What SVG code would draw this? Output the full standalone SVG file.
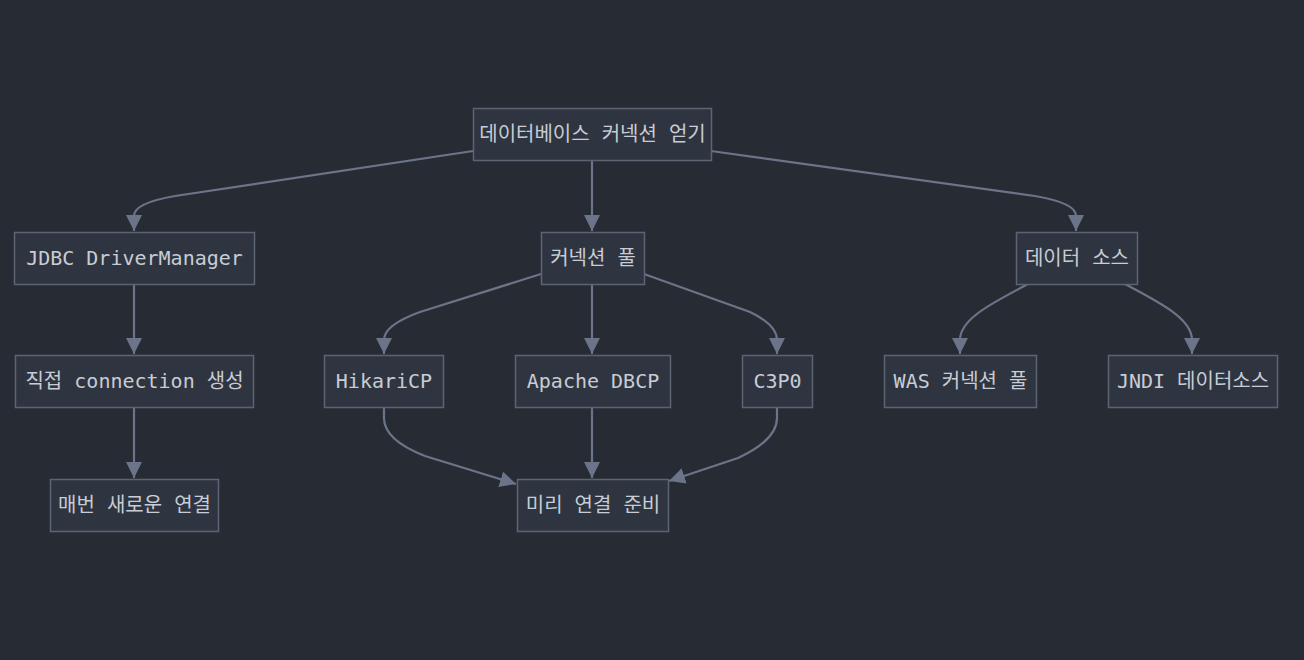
<svg xmlns="http://www.w3.org/2000/svg" width="1304" height="660" viewBox="0 0 1304 660">
<style>
.bg{fill:#272b34}
.node rect{fill:#2f3540;stroke:#5c6474;stroke-width:1.5}
.node text{font-family:"DejaVu Sans Mono","Noto Sans CJK KR",monospace;font-size:20px;fill:#c8ccd4;text-anchor:middle}
.edges path{fill:none;stroke:#6b7488;stroke-width:2.2}
</style>
<defs>
<marker id="ah" markerUnits="userSpaceOnUse" viewBox="0 0 16 16" refX="16" refY="8" markerWidth="16" markerHeight="16" orient="auto">
<path d="M0,0 L16,8 L0,16 z" fill="#6b7488"/>
</marker>
</defs>
<rect class="bg" width="1304" height="660"/>
<g class="edges">
<path d="M473,151 L175,196 Q134,203 134,216 L134,231" marker-end="url(#ah)"/>
<path d="M592,160 L592,231" marker-end="url(#ah)"/>
<path d="M711,151 L1035,196 Q1076,203 1076,216 L1076,231" marker-end="url(#ah)"/>
<path d="M134,284 L134,354" marker-end="url(#ah)"/>
<path d="M134,408 L134,478" marker-end="url(#ah)"/>
<path d="M541,274 L420,312 Q384,325 384,340 L384,354" marker-end="url(#ah)"/>
<path d="M592,284 L592,354" marker-end="url(#ah)"/>
<path d="M644,274 L750,312 Q777,325 777,340 L777,354" marker-end="url(#ah)"/>
<path d="M1028,284 C995,302 960,318 960,340 L960,354" marker-end="url(#ah)"/>
<path d="M1125,284 C1158,302 1192,318 1192,340 L1192,354" marker-end="url(#ah)"/>
<path d="M384,408 L384,418 Q384,440 425,456 L516,484" marker-end="url(#ah)"/>
<path d="M592,408 L592,478" marker-end="url(#ah)"/>
<path d="M777,408 L777,418 Q777,440 738,458 L669,481" marker-end="url(#ah)"/>
</g>
<g id="n-root" class="node"><rect x="473.5" y="108.5" width="238" height="52"/><text x="592.5" y="141">데이터베이스 커넥션 얻기</text></g>
<g id="n-jdbc" class="node"><rect x="14.5" y="232.5" width="240" height="52"/><text x="134.5" y="265">JDBC DriverManager</text></g>
<g id="n-pool" class="node"><rect x="541.5" y="232.5" width="103" height="52"/><text x="593" y="265">커넥션 풀</text></g>
<g id="n-ds" class="node"><rect x="1016.5" y="232.5" width="121" height="52"/><text x="1077" y="265">데이터 소스</text></g>
<g id="n-direct" class="node"><rect x="15.5" y="355.5" width="238" height="52"/><text x="134.5" y="388">직접 connection 생성</text></g>
<g id="n-hikari" class="node"><rect x="324.5" y="355.5" width="119" height="52"/><text x="384" y="388">HikariCP</text></g>
<g id="n-dbcp" class="node"><rect x="515.5" y="355.5" width="155" height="52"/><text x="593" y="388">Apache DBCP</text></g>
<g id="n-c3p0" class="node"><rect x="742.5" y="355.5" width="70" height="52"/><text x="777.5" y="388">C3P0</text></g>
<g id="n-was" class="node"><rect x="884.5" y="355.5" width="152" height="52"/><text x="960.5" y="388">WAS 커넥션 풀</text></g>
<g id="n-jndi" class="node"><rect x="1108.5" y="355.5" width="169" height="52"/><text x="1193" y="388">JNDI 데이터소스</text></g>
<g id="n-new" class="node"><rect x="50.5" y="479.5" width="168" height="52"/><text x="134.5" y="512">매번 새로운 연결</text></g>
<g id="n-ready" class="node"><rect x="517.5" y="479.5" width="151" height="52"/><text x="593" y="512">미리 연결 준비</text></g>
</svg>
